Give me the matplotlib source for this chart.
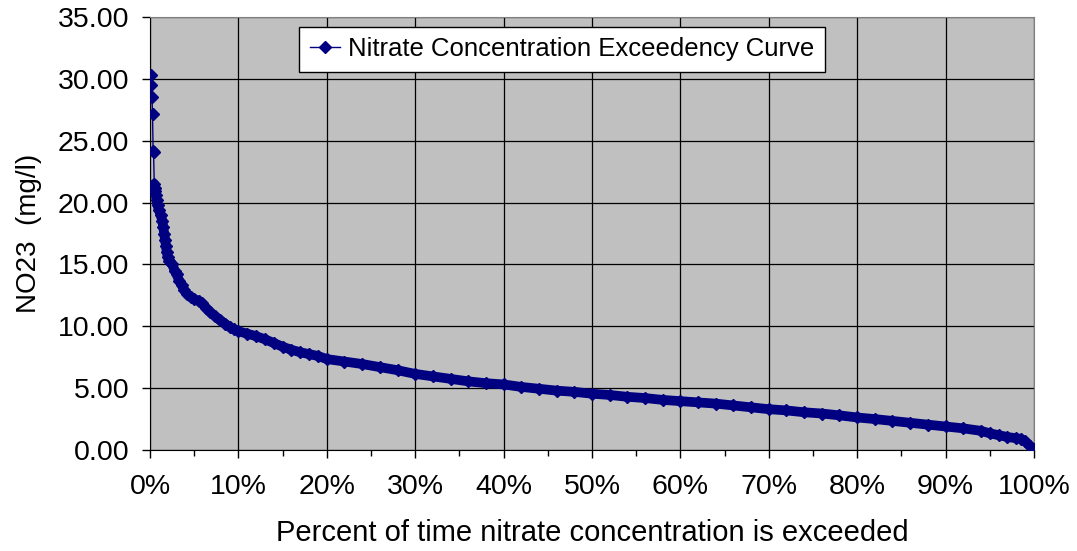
import matplotlib
matplotlib.use("Agg")
import matplotlib.pyplot as plt
from matplotlib.ticker import MultipleLocator, PercentFormatter

plt.rcParams['font.family'] = ['Liberation Sans', 'DejaVu Sans']

# exceedance percent (0-1) and NO23 concentration (mg/l)
pct = [0.0008, 0.0015, 0.0022, 0.0028, 0.0035, 0.0040, 0.0048, 0.0053,
       0.0058, 0.0065, 0.0075, 0.0085, 0.010, 0.012, 0.014, 0.015, 0.016,
       0.017, 0.018, 0.019, 0.020, 0.022, 0.025, 0.028, 0.030, 0.033,
       0.036, 0.039, 0.042, 0.046, 0.050, 0.055, 0.059, 0.063, 0.068,
       0.073, 0.079, 0.085, 0.090, 0.095, 0.10, 0.11, 0.12, 0.13, 0.14,
       0.15, 0.16, 0.17, 0.18, 0.19, 0.20, 0.22, 0.24, 0.26, 0.28, 0.30,
       0.32, 0.34, 0.36, 0.38, 0.40, 0.42, 0.44, 0.46, 0.48, 0.50, 0.52,
       0.54, 0.56, 0.58, 0.60, 0.62, 0.64, 0.66, 0.68, 0.70, 0.72, 0.74,
       0.76, 0.78, 0.80, 0.82, 0.84, 0.86, 0.88, 0.90, 0.92, 0.94, 0.95,
       0.96, 0.97, 0.98, 0.985, 0.99, 0.995, 1.0]
no23 = [30.3, 29.5, 28.5, 27.2, 24.2, 24.1, 21.5, 21.2,
        20.9, 20.6, 20.2, 19.8, 19.4, 19.0, 18.5, 18.0, 17.5,
        17.0, 16.5, 16.0, 15.6, 15.3, 15.0, 14.5, 14.2, 13.7,
        13.3, 12.9, 12.6, 12.35, 12.2, 12.05, 11.85, 11.5, 11.15,
        10.85, 10.5, 10.2, 9.95, 9.75, 9.6, 9.4, 9.2, 8.95, 8.65,
        8.35, 8.1, 7.9, 7.75, 7.6, 7.35, 7.15, 6.95, 6.7, 6.45, 6.15,
        5.95, 5.75, 5.55, 5.4, 5.3, 5.1, 4.95, 4.8, 4.7, 4.55, 4.45,
        4.3, 4.2, 4.05, 3.95, 3.85, 3.75, 3.6, 3.45, 3.3, 3.2, 3.05,
        2.95, 2.8, 2.63, 2.5, 2.35, 2.2, 2.05, 1.9, 1.75, 1.55, 1.35,
        1.2, 1.05, 0.95, 0.9, 0.7, 0.35, 0.05]

navy = '#000080'
dense_start = 6  # from here on the points merge into a thick band

fig = plt.figure(figsize=(10.77, 5.51), dpi=100)
ax = fig.add_axes([0.1393, 0.1833, 0.8207, 0.7858])
ax.set_facecolor('#C0C0C0')

ax.plot(pct[dense_start:], no23[dense_start:], color=navy, lw=7,
        solid_joinstyle='round', solid_capstyle='round', zorder=3)
ax.plot(pct, no23, color=navy, lw=1, marker='D', ms=6, zorder=4,
        label='Nitrate Concentration Exceedency Curve')

ax.set_xlim(0, 1)
ax.set_ylim(0, 35)
ax.xaxis.set_major_locator(MultipleLocator(0.1))
ax.xaxis.set_minor_locator(MultipleLocator(0.05))
ax.xaxis.set_major_formatter(PercentFormatter(1.0, decimals=0))
ax.yaxis.set_major_locator(MultipleLocator(5))
ax.yaxis.set_major_formatter(lambda v, p: f'{v:.2f}')

ax.grid(True, which='major', color='black', lw=0.9, zorder=1)
ax.set_axisbelow(True)
ax.tick_params(axis='both', which='major', labelsize=20.5, length=6,
               direction='out', width=1)
ax.tick_params(axis='x', which='major', pad=11)
ax.tick_params(axis='y', which='major', pad=9)
ax.tick_params(axis='x', which='minor', length=4, width=1)

for side in ['left', 'bottom']:
    ax.spines[side].set_color('black')
for side in ['top', 'right']:
    ax.spines[side].set_color('#808080')

ax.set_xlabel('Percent of time nitrate concentration is exceeded',
              fontsize=21, labelpad=14)
ax.set_ylabel('NO23  (mg/l)', fontsize=20, labelpad=11)

leg = ax.legend(loc='upper center', bbox_to_anchor=(0.466, 0.978),
                fontsize=18.5, handlelength=1.2, handletextpad=0.3,
                fancybox=False, framealpha=1, edgecolor='black',
                borderpad=0.42, borderaxespad=0)
leg.get_frame().set_linewidth(1)

fig.savefig('out.png', dpi=100)
